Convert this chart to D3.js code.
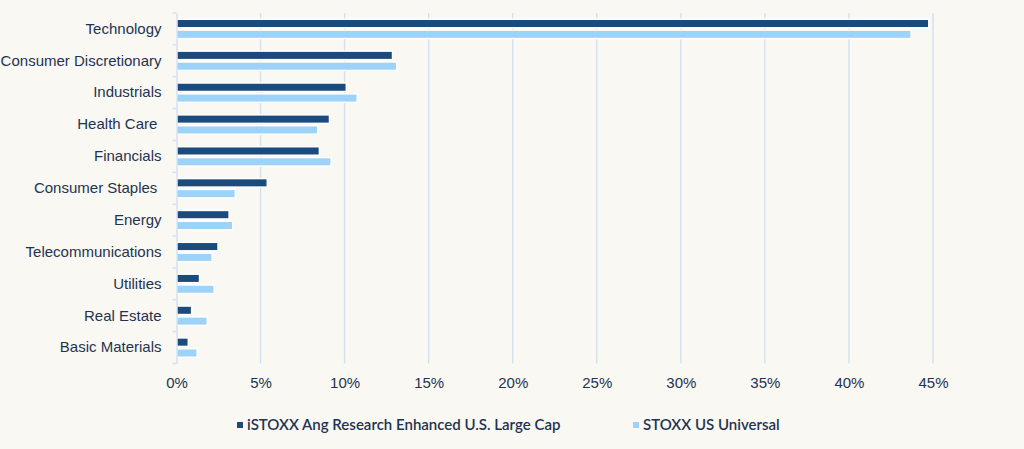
<!DOCTYPE html>
<html><head><meta charset="utf-8">
<script src="https://cdn.jsdelivr.net/npm/d3@7"></script>
<style>
html,body{margin:0;padding:0;background:#f9f8f2;}
svg{display:block;font-family:Lato, "Open Sans", sans-serif;}
</style></head>
<body>
<svg id="chart" width="1024" height="449"></svg>
<script>
const categories = ["Technology","Consumer Discretionary","Industrials","Health Care ","Financials","Consumer Staples ","Energy","Telecommunications","Utilities","Real Estate","Basic Materials"];
const seriesNames = ["iSTOXX Ang Research Enhanced U.S. Large Cap","STOXX US Universal"];
const enhanced = [44.75,12.85,10.1,9.1,8.5,5.4,3.13,2.47,1.37,0.9,0.7];
const universal = [43.7,13.1,10.75,8.4,9.2,3.5,3.35,2.12,2.24,1.83,1.23];
const xTicks = [0,5,10,15,20,25,30,35,40,45];
const colors = ["#1b4a7c","#9dd3f8"];
const textColor = "#1f3352";

const svg = d3.select("#chart");
const margin = {left:176.5, right:1024-933, top:13, bottom:449-363.5};
const W = 1024, H = 449;
const x = d3.scaleLinear().domain([0,45]).range([margin.left, W-margin.right]);
const y = d3.scaleBand().domain(categories).range([margin.top, H-margin.bottom]).paddingInner(0).paddingOuter(0);
const inner = d3.scaleBand().domain([0,1]).range([0, y.bandwidth()]).paddingInner(0.213).paddingOuter(0.579);

// gridlines
svg.append("g").selectAll("line").data(xTicks.slice(1)).join("line")
  .attr("x1", d=>x(d)).attr("x2", d=>x(d))
  .attr("y1", margin.top).attr("y2", H-margin.bottom)
  .attr("stroke","#d3e0f0").attr("stroke-width",1.4);

// bars
const series = [enhanced, universal];
series.forEach((vals, si) => {
  svg.append("g").selectAll("rect").data(vals).join("rect")
    .attr("x", x(0))
    .attr("y", (d,i)=> y(categories[i]) + inner(si))
    .attr("width", d=> x(d)-x(0))
    .attr("height", inner.bandwidth())
    .attr("fill", colors[si])
    .attr("stroke","#ffffff").attr("stroke-width",1.5);
});

// y axis
const yAxis = d3.axisLeft(y).tickSize(0).tickPadding(15);
const yg = svg.append("g").attr("transform",`translate(${x(0)},0)`).call(yAxis);
yg.select(".domain").attr("stroke","#d3e0f0").attr("stroke-width",1.4);
yg.selectAll("text").attr("fill",textColor).attr("font-size",15).style("white-space","pre");
// category boundary ticks
const bounds = categories.map(c=>y(c)).concat([y.range()[1]]);
svg.append("g").selectAll("line").data(bounds).join("line")
  .attr("x1", x(0)-4).attr("x2", x(0))
  .attr("y1", d=>d).attr("y2", d=>d)
  .attr("stroke","#d3e0f0").attr("stroke-width",1.4);

// x axis
const xAxis = d3.axisBottom(x).tickValues(xTicks).tickFormat(d=>d+"%").tickSize(0).tickPadding(14);
const xg = svg.append("g").attr("transform",`translate(0,${H-margin.bottom})`).call(xAxis);
xg.select(".domain").remove();
xg.selectAll("text").attr("fill",textColor).attr("font-size",15);

// legend
const legendItems = [{name:seriesNames[0], color:colors[0], x:237},{name:seriesNames[1], color:colors[1], x:633}];
const lg = svg.append("g").selectAll("g").data(legendItems).join("g")
  .attr("transform", d=>`translate(${d.x},425)`);
lg.append("rect").attr("x",0).attr("y",-3).attr("width",6).attr("height",6).attr("fill",d=>d.color);
lg.append("text").attr("x",10).attr("y",0).attr("dy","0.35em")
  .attr("fill",textColor).attr("font-size",15).attr("font-weight",600).text(d=>d.name);
</script>
</body></html>
